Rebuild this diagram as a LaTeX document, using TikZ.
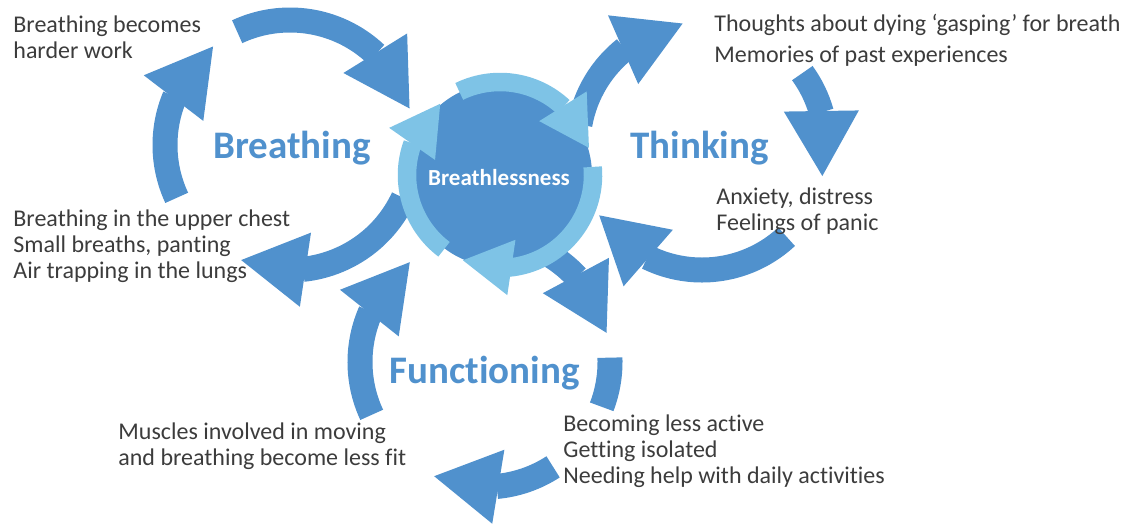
\documentclass[tikz,border=0pt]{standalone}
\usepackage{fontspec}
\setmainfont{Carlito}[Ligatures={TeX,NoCommon}]
\usetikzlibrary{arrows.meta, bending}

\definecolor{loopblue}{RGB}{80,145,205}
\definecolor{ringblue}{RGB}{126,195,230}
\definecolor{textgray}{RGB}{60,60,60}

\tikzset{
    loop/.style={draw=loopblue, line width=12.5pt},
    loop arrow/.style={loop, -{Triangle[length=32.5pt, width=37.5pt, line width=0pt, flex]}},
    ring arrow/.style={draw=ringblue, line width=9.25pt,
        -{Triangle[length=24.5pt, width=28pt, line width=0pt, flex]}},
    % base west = baseline of the last line
    caption/.style={anchor=base west, inner sep=0pt, align=left, text=textgray,
        font=\fontsize{12pt}{13pt}\selectfont},
    cycle title/.style={anchor=base west, inner sep=0pt, text=loopblue,
        font=\bfseries\fontsize{19.5pt}{20pt}\selectfont},
}

\begin{document}
\begin{tikzpicture}[x=0.5pt, y=-0.5pt]
    \useasboundingbox (0, 0) rectangle (1128, 525);
    % breathing cycle
    \begin{scope}[shift={(290, 145)}]
        \draw[loop arrow] (-115:125) arc[start angle=-115, end angle=-17, radius=125];
        \draw[loop arrow] (155:125) arc[start angle=155, end angle=232, radius=125];
        \draw[loop arrow] (25:125) arc[start angle=25, end angle=113, radius=125];
    \end{scope}
    % thinking cycle
    \begin{scope}[shift={(702, 146)}]
        \draw[loop arrow] (190:124) arc[start angle=190, end angle=261, radius=124];
        \draw[loop arrow] (-36:124) arc[start angle=-36, end angle=14, radius=124];
        \draw[loop arrow] (47:124) arc[start angle=47, end angle=146, radius=124];
    \end{scope}
    % functioning cycle
    \begin{scope}[shift={(485, 362)}]
        \draw[loop arrow] (-80:125) arc[start angle=-80, end angle=-13.5, radius=125];
        \draw[loop] (-2:125) arc[start angle=-2, end angle=21, radius=125];
        \draw[loop arrow] (57:125) arc[start angle=57, end angle=114, radius=125];
        \draw[loop arrow] (155:125) arc[start angle=155, end angle=233, radius=125];
    \end{scope}
    % centre
    \begin{scope}[shift={(500, 175)}]
        \fill[loopblue] (0, 0) circle[radius=92];
        \draw[ring arrow] (-116:93) arc[start angle=-116, end angle=-17, radius=93];
        \draw[ring arrow] (-5:93) arc[start angle=-5, end angle=113.5, radius=93];
        \draw[ring arrow] (127:93) arc[start angle=127, end angle=230, radius=93];
    \end{scope}
    \node[anchor=base, inner sep=0pt, text=white, font=\bfseries\fontsize{11.5pt}{12pt}\selectfont]
        (centre) at (499, 185) {Breathlessness};

    \node[cycle title] (breathing) at (213, 158) {Breathing};
    \node[cycle title] (thinking) at (630, 158) {Thinking};
    \node[cycle title] (functioning) at (389, 383) {Functioning};

    \node[caption] (harder) at (13, 58) {Breathing becomes\\harder work};
    \node[caption] (chest) at (13, 278) {Breathing in the upper chest\\Small breaths, panting\\Air trapping in the lungs};
    \node[caption, font=\fontsize{12pt}{15.5pt}\selectfont] (dying) at (714, 62)
        {Thoughts about dying ‘gasping’ for breath\\Memories of past experiences};
    \node[caption] (panic) at (716, 230) {Anxiety, distress\\Feelings of panic};
    \node[caption] (muscles) at (118, 465) {Muscles involved in moving\\and breathing become less fit};
    \node[caption] (active) at (563, 483) {Becoming less active\\Getting isolated\\Needing help with daily activities};
\end{tikzpicture}
\end{document}
